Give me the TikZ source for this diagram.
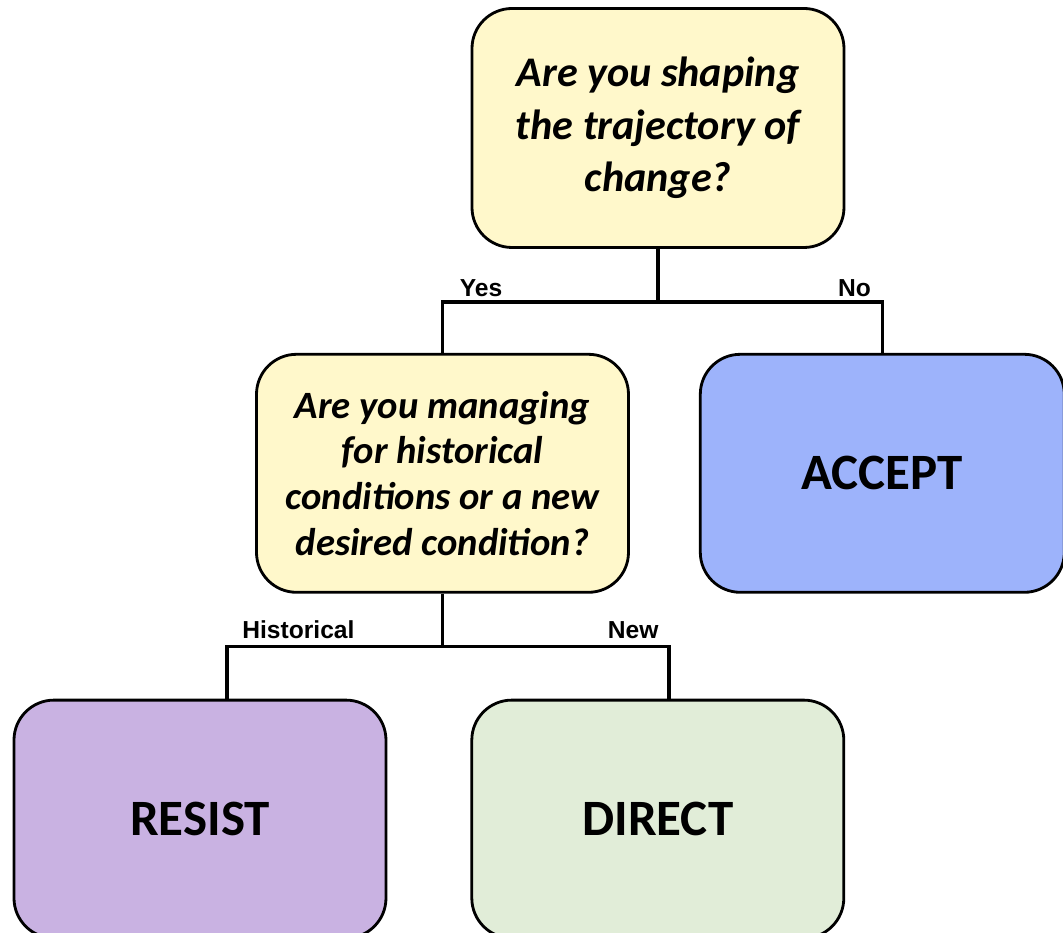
\documentclass[tikz,border=0pt]{standalone}
\usepackage{fontspec}
\setmainfont{Carlito}
\newfontfamily\labelfont{Liberation Sans}
\usetikzlibrary{positioning,calc}

\definecolor{askyellow}{HTML}{FFF8CB}
\definecolor{acceptblue}{HTML}{9DB3FB}
\definecolor{resistpurple}{HTML}{C9B2E2}
\definecolor{directgreen}{HTML}{E1EDD8}

\tikzset{
  question/.style={draw, line width=1.6pt, rounded corners=0.8cm, minimum width=7.44cm, minimum height=4.78cm, fill=askyellow, align=center, font=\fontsize{24}{30}\selectfont\bfseries\itshape},
  outcome/.style={draw, line width=1.6pt, rounded corners=0.8cm, minimum width=7.44cm, minimum height=4.76cm, font=\fontsize{29}{34}\selectfont\bfseries},
  link/.style={line width=2pt},
  branch/.style={inner sep=0pt, font=\labelfont\fontsize{14}{16}\selectfont\bfseries}
}

\begin{document}
\begin{tikzpicture}
            \useasboundingbox (-13.16,2.56) rectangle (8.1,-16.1);

            \node[question] (shape) {Are you shaping\\the trajectory of\\change?};
            \node[question, below=2.08cm of shape, xshift=-4.31cm, minimum height=4.76cm, font=\fontsize{22}{26}\selectfont\bfseries\itshape] (manage) {Are you managing\\for historical\\conditions or a new\\desired condition?};
            \node[outcome, fill=acceptblue, minimum width=7.28cm, right=1.38cm of manage] (accept) {ACCEPT};
            \node[outcome, fill=resistpurple, below=2.1cm of manage, xshift=-4.85cm] (resist) {RESIST};
            \node[outcome, fill=directgreen, right=1.66cm of resist] (direct) {DIRECT};

            \coordinate (fork1) at ($(shape.south)+(0,-1.06)$);
            \coordinate (fork2) at ($(manage.south)+(0,-1.06)$);

            \draw[link] (shape.south) -- (fork1);
            \draw[link] (manage.north) |- (fork1) -| (accept.north);
            \draw[link] (manage.south) -- (fork2);
            \draw[link] ([xshift=0.54cm]resist.north) |- (fork2) -| ([xshift=0.22cm]direct.north);

            \node[branch, anchor=base west] (yes) at ($(manage.north |- fork1)+(0.34,0.1)$) {Yes};
            \node[branch, anchor=base east] (no) at ($(accept.north |- fork1)+(-0.22,0.1)$) {No};
            \node[branch, anchor=base west] (historical) at ($(resist.north |- fork2)+(0.84,0.16)$) {Historical};
            \node[branch, anchor=base east] (new) at ($(direct.north |- fork2)+(0.02,0.16)$) {New};
        \end{tikzpicture}
\end{document}
